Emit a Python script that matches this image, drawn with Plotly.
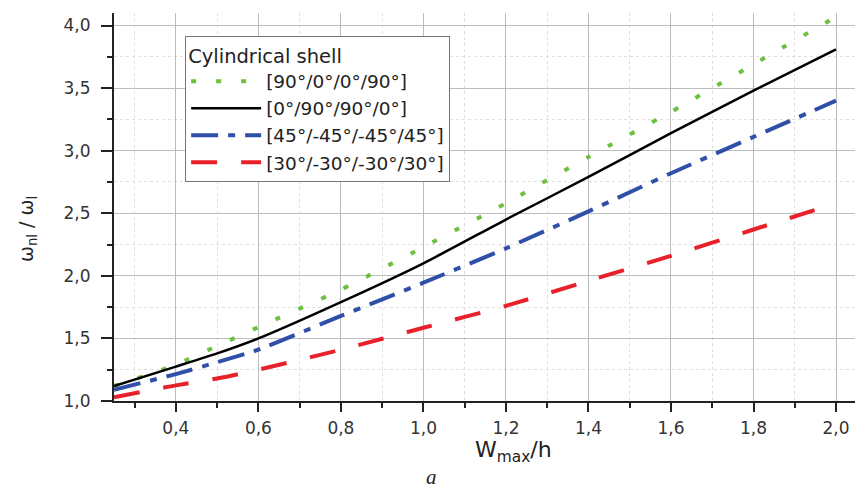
import plotly.graph_objects as go

x = [0.25, 0.4, 0.5, 0.6, 0.8, 1.0, 1.2, 1.4, 1.6, 1.8, 2.0]
green_90_0_0_90 = [1.12, 1.29, 1.44, 1.59, 1.89, 2.23, 2.58, 2.95, 3.31, 3.69, 4.07]
black_0_90_90_0 = [1.12, 1.275, 1.38, 1.50, 1.79, 2.10, 2.45, 2.79, 3.14, 3.48, 3.81]
blue_45 = [1.09, 1.215, 1.31, 1.41, 1.68, 1.945, 2.22, 2.515, 2.82, 3.11, 3.40]
red_30 = [1.03, 1.125, 1.18, 1.25, 1.41, 1.585, 1.76, 1.96, 2.16, 2.37, 2.58]

names = ["[90°/0°/0°/90°]", "[0°/90°/90°/0°]", "[45°/-45°/-45°/45°]", "[30°/-30°/-30°/30°]"]
series = [green_90_0_0_90, black_0_90_90_0, blue_45, red_30]
colors = ["#6cbf3f", "#000000", "#2f4fa8", "#e8202a"]
dashes = ["5px,20px", "solid", "27px,10px,7px,10px", "26px,24px"]
widths = [4, 2.5, 4, 4]

fig = go.Figure()
for n, s, c, d, w in zip(names, series, colors, dashes, widths):
    fig.add_trace(go.Scatter(x=x, y=s, mode="lines", name=n, line_shape="spline",
                             line=dict(color=c, dash=d, width=w, smoothing=0.6)))

font = "DejaVu Sans, Verdana, sans-serif"
fig.update_layout(
    width=855, height=490,
    margin=dict(l=114, r=0, t=13, b=89),
    paper_bgcolor="white", plot_bgcolor="white",
    separators=", ",
    font=dict(family=font, size=17, color="#333"),
    showlegend=True,
    legend=dict(x=0.096, y=0.94, xanchor="left", yanchor="top",
                bgcolor="white", bordercolor="#777", borderwidth=1,
                font=dict(size=18.5, color="#222", family=font),
                title=dict(text="Cylindrical shell", font=dict(size=19.5, color="#222")),
                itemwidth=70, tracegroupgap=0),
    xaxis=dict(range=[0.25, 2.046], dtick=0.2, tick0=0, tickformat=".1f",
               showline=True, linecolor="#222", linewidth=2,
               ticks="outside", ticklen=9, tickwidth=2, tickcolor="#222",
               ticklabelstandoff=2,
               showgrid=True, gridcolor="#bdbdbd", gridwidth=1, zeroline=False,
               minor=dict(dtick=0.1, tick0=0, showgrid=True, gridcolor="#dedede",
                          griddash="dot", ticks="outside", ticklen=5, tickcolor="#222")),
    yaxis=dict(range=[1.0, 4.1], dtick=0.5, tick0=0, tickformat=".1f",
               showline=True, linecolor="#222", linewidth=2,
               ticks="outside", ticklen=11, tickwidth=2, tickcolor="#222",
               ticklabelstandoff=7,
               showgrid=True, gridcolor="#bdbdbd", gridwidth=1, zeroline=False,
               minor=dict(dtick=0.25, tick0=0, showgrid=True, gridcolor="#dedede",
                          griddash="dot", ticks="outside", ticklen=5, tickcolor="#222")),
)

fig.add_annotation(text="W<sub>max</sub>/h", xref="paper", yref="paper",
                   x=(513 - 114) / 741, y=-(451 - 401) / 388, showarrow=False,
                   xanchor="center", yanchor="middle",
                   font=dict(size=22, color="#222", family=font))
fig.add_annotation(text="ω<sub>nl</sub> / ω<sub>l</sub>", xref="paper", yref="paper",
                   x=-(114 - 27) / 741, y=(401 - 229) / 388, showarrow=False,
                   textangle=-90, xanchor="center", yanchor="middle",
                   font=dict(size=19, color="#222", family=font))
fig.add_annotation(text="<i>a</i>", xref="paper", yref="paper",
                   x=(431 - 114) / 741, y=-(477 - 401) / 388, showarrow=False,
                   xanchor="center", yanchor="middle",
                   font=dict(size=21, color="#222", family="Liberation Serif, Times New Roman, serif"))

fig.write_html("out.html")
